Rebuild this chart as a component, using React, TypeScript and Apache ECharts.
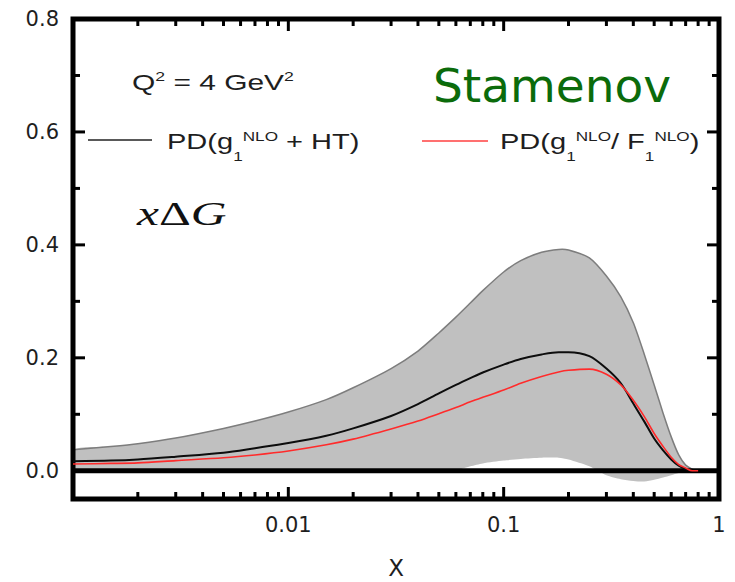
import { useEffect, useRef } from 'react';
import * as echarts from 'echarts';

// Sampling points in x (log scale)
const xValues = [
  0.001, 0.0015, 0.002, 0.003, 0.005, 0.007, 0.01, 0.015, 0.02, 0.03, 0.04,
  0.05, 0.06, 0.07, 0.08, 0.1, 0.12, 0.15, 0.18, 0.2, 0.25, 0.3, 0.35, 0.4,
  0.45, 0.5, 0.55, 0.6, 0.65, 0.7, 0.75, 0.8,
];

// Error band of x*DeltaG
const bandUpper = [
  0.037, 0.043, 0.048, 0.058, 0.075, 0.088, 0.104, 0.126, 0.147, 0.181, 0.212,
  0.244, 0.272, 0.297, 0.319, 0.352, 0.372, 0.387, 0.392, 0.391, 0.377, 0.345,
  0.308, 0.262, 0.206, 0.152, 0.102, 0.06, 0.028, 0.01, 0.003, 0.0,
];
const bandLower = [
  0, 0, 0, 0, 0, 0, 0, 0, 0, 0, 0,
  0, 0.001, 0.008, 0.013, 0.018, 0.021, 0.023, 0.023, 0.02, 0.008, -0.008,
  -0.015, -0.018, -0.019, -0.016, -0.012, -0.008, -0.004, -0.001, 0, 0,
];

// PD(g1 NLO + HT)
const pdHT = [
  0.017, 0.018, 0.02, 0.025, 0.032, 0.04, 0.049, 0.062, 0.075, 0.097, 0.118,
  0.137, 0.152, 0.164, 0.174, 0.188, 0.198, 0.206, 0.21, 0.21, 0.203, 0.181,
  0.155, 0.119, 0.087, 0.057, 0.036, 0.02, 0.009, 0.003, 0, 0,
];

// PD(g1 NLO / F1 NLO)
const pdRatio = [
  0.012, 0.013, 0.014, 0.018, 0.023, 0.028, 0.035, 0.046, 0.056, 0.074, 0.088,
  0.101, 0.112, 0.122, 0.13, 0.143, 0.155, 0.167, 0.175, 0.178, 0.18, 0.171,
  0.152, 0.125, 0.096, 0.066, 0.043, 0.024, 0.011, 0.005, 0, 0,
];

const xMajorTicks = [0.001, 0.01, 0.1, 1];
const xMinorTicks = [
  0.002, 0.003, 0.004, 0.005, 0.006, 0.007, 0.008, 0.009,
  0.02, 0.03, 0.04, 0.05, 0.06, 0.07, 0.08, 0.09,
  0.2, 0.3, 0.4, 0.5, 0.6, 0.7, 0.8, 0.9,
];
const xTickLabels = [0.01, 0.1, 1];
const yMajorTicks = [0, 0.2, 0.4, 0.6, 0.8];
const yMinorTicks = [0.1, 0.3, 0.5, 0.7];

const X_MIN = 0.001;
const X_MAX = 1;
const Y_MIN = -0.05;
const Y_MAX = 0.8;

const AXIS_FONT = 'DejaVu Sans';
const TEXT_FONT = 'Liberation Sans';
const INK = '#1e1e1e';

type Piece = [string, 'm' | 'sub' | 'sup'];

const PIECE_STYLE = {
  m: { size: 22, dy: 0 },
  sub: { size: 13, dy: 15 },
  sup: { size: 13, dy: -5 },
};

function textWidth(text: string, size: number, family: string) {
  const t = new echarts.graphic.Text({ style: { text, fontSize: size, fontFamily: family } });
  return t.getBoundingRect().width;
}

// Lays out a line of text with sub- and superscripts as a group of text pieces
function scriptLine(pieces: Piece[], x: number, y: number, scaleX: number, supDy?: number) {
  let offset = 0;
  const children = pieces.map(([text, kind]) => {
    const ps = PIECE_STYLE[kind];
    const dy = kind === 'sup' && supDy !== undefined ? supDy : ps.dy;
    const el = {
      type: 'text',
      x: offset,
      y: dy,
      style: {
        text,
        fontSize: ps.size,
        fontFamily: TEXT_FONT,
        fill: INK,
        verticalAlign: 'middle',
      },
    };
    offset += textWidth(text, ps.size, TEXT_FONT);
    return el;
  });
  return { type: 'group', x, y, scaleX, children };
}

export default function App() {
  const ref = useRef<HTMLDivElement>(null);

  useEffect(() => {
    if (!ref.current) return;
    const chart = echarts.init(ref.current, null, { renderer: 'svg' });

    const xTickData = [
      ...xMajorTicks.map((v) => [v, Y_MIN, 1]),
      ...xMinorTicks.map((v) => [v, Y_MIN, 0]),
    ];
    const yTickData = [
      ...yMajorTicks.map((v) => [X_MIN, v, 1]),
      ...yMinorTicks.map((v) => [X_MIN, v, 0]),
    ];

    chart.setOption({
      animation: false,
      backgroundColor: '#ffffff',
      grid: { left: 73, right: 16, top: 19, bottom: 83, outerBoundsMode: 'none' },
      xAxis: {
        type: 'log',
        logBase: 10,
        min: X_MIN,
        max: X_MAX,
        name: 'X',
        nameLocation: 'middle',
        nameGap: 57,
        nameTextStyle: { fontFamily: AXIS_FONT, fontSize: 23, color: INK },
        axisLine: { show: false },
        axisTick: { show: false },
        splitLine: { show: false },
        minorTick: { show: false },
        axisLabel: {
          margin: 15,
          fontFamily: AXIS_FONT,
          fontSize: 21,
          color: INK,
          formatter: (v: number) => {
            const hit = xTickLabels.find((t) => Math.abs(t - v) / t < 1e-6);
            return hit === undefined ? '' : String(hit);
          },
        },
      },
      yAxis: {
        type: 'value',
        min: Y_MIN,
        max: Y_MAX,
        axisLine: { show: false },
        axisTick: { show: false },
        splitLine: { show: false },
        axisLabel: {
          margin: 14,
          fontFamily: AXIS_FONT,
          fontSize: 21,
          color: INK,
          customValues: yMajorTicks,
          formatter: (v: number) => v.toFixed(1),
        },
      },
      series: [
        {
          type: 'custom',
          name: 'band',
          clip: true,
          silent: true,
          data: [[X_MIN, Y_MIN]],
          renderItem: (_params: any, api: any) => {
            const top = xValues.map((x, i) => api.coord([x, bandUpper[i]]));
            const bottom = xValues.map((x, i) => api.coord([x, bandLower[i]])).reverse();
            return {
              type: 'group',
              children: [
                {
                  type: 'polygon',
                  shape: { points: top.concat(bottom), smooth: 0.25 },
                  style: { fill: '#c0c0c0', stroke: 'none' },
                },
                {
                  type: 'polyline',
                  shape: { points: top, smooth: 0.25 },
                  style: { stroke: '#7d7d7d', lineWidth: 1.5, fill: 'none' },
                },
              ],
            };
          },
        },
        {
          type: 'line',
          name: 'zero',
          silent: true,
          symbol: 'none',
          data: [[X_MIN, 0], [X_MAX, 0]],
          lineStyle: { color: '#000', width: 5 },
        },
        {
          type: 'line',
          name: 'PD(g1 NLO + HT)',
          symbol: 'none',
          smooth: 0.3,
          data: xValues.map((x, i) => [x, pdHT[i]]),
          lineStyle: { color: '#0d0d0d', width: 2 },
        },
        {
          type: 'line',
          name: 'PD(g1 NLO / F1 NLO)',
          symbol: 'none',
          smooth: 0.3,
          data: xValues.map((x, i) => [x, pdRatio[i]]),
          lineStyle: { color: '#ff2b2b', width: 1.6 },
        },
        {
          type: 'custom',
          name: 'xTicks',
          silent: true,
          clip: false,
          data: xTickData,
          renderItem: (_params: any, api: any) => {
            const v = api.value(0);
            const len = api.value(2) === 1 ? 12 : 7;
            const b = api.coord([v, Y_MIN]);
            const t = api.coord([v, Y_MAX]);
            const st = { stroke: '#000', lineWidth: 3 };
            return {
              type: 'group',
              children: [
                { type: 'line', shape: { x1: b[0], y1: b[1], x2: b[0], y2: b[1] - len }, style: st },
                { type: 'line', shape: { x1: t[0], y1: t[1], x2: t[0], y2: t[1] + len }, style: st },
              ],
            };
          },
        },
        {
          type: 'custom',
          name: 'yTicks',
          silent: true,
          clip: false,
          data: yTickData,
          renderItem: (_params: any, api: any) => {
            const v = api.value(1);
            const len = api.value(2) === 1 ? 12 : 7;
            const l = api.coord([X_MIN, v]);
            const r = api.coord([X_MAX, v]);
            const st = { stroke: '#000', lineWidth: 3 };
            return {
              type: 'group',
              children: [
                { type: 'line', shape: { x1: l[0], y1: l[1], x2: l[0] + len, y2: l[1] }, style: st },
                { type: 'line', shape: { x1: r[0], y1: r[1], x2: r[0] - len, y2: r[1] }, style: st },
              ],
            };
          },
        },
        {
          type: 'custom',
          name: 'frame',
          silent: true,
          clip: false,
          data: [[X_MIN, Y_MIN]],
          renderItem: (_params: any, api: any) => {
            const p0 = api.coord([X_MIN, Y_MAX]);
            const p1 = api.coord([X_MAX, Y_MIN]);
            return {
              type: 'rect',
              shape: { x: p0[0], y: p0[1], width: p1[0] - p0[0], height: p1[1] - p0[1] },
              style: { fill: 'none', stroke: '#000', lineWidth: 5 },
            };
          },
        },
      ],
      graphic: [
        scriptLine([['Q', 'm'], ['2', 'sup'], [' = 4 GeV', 'm'], ['2', 'sup']], 132, 82, 1.36, -6),
        {
          type: 'line',
          shape: { x1: 88, y1: 140, x2: 152, y2: 140 },
          style: { stroke: '#222', lineWidth: 1.5 },
        },
        scriptLine([['PD(g', 'm'], ['1', 'sub'], ['NLO', 'sup'], [' + HT)', 'm']], 167, 141, 1.32),
        {
          type: 'line',
          shape: { x1: 422, y1: 141, x2: 488, y2: 141 },
          style: { stroke: '#ff4040', lineWidth: 1.5 },
        },
        scriptLine(
          [['PD(g', 'm'], ['1', 'sub'], ['NLO', 'sup'], ['/ F', 'm'], ['1', 'sub'], ['NLO', 'sup'], [')', 'm']],
          500,
          141,
          1.32,
        ),
        {
          type: 'text',
          x: 433,
          y: 85,
          style: {
            text: 'Stamenov',
            fontFamily: 'DejaVu Sans',
            fontSize: 47,
            fill: '#0b6b0b',
            verticalAlign: 'middle',
          },
        },
        {
          type: 'text',
          x: 137,
          y: 214,
          scaleX: 1.5,
          style: {
            text: '{i|x}{d|Δ}{i|G}',
            rich: {
              i: { fontFamily: 'Liberation Serif', fontStyle: 'italic', fontSize: 33, fill: '#111' },
              d: { fontFamily: 'Liberation Serif', fontSize: 33, fill: '#111' },
            },
            verticalAlign: 'middle',
          },
        },
      ],
    });

    return () => chart.dispose();
  }, []);

  return (
    <div
      ref={ref}
      style={{ position: 'fixed', left: 0, top: 0, width: 735, height: 582, background: '#fff' }}
    />
  );
}
